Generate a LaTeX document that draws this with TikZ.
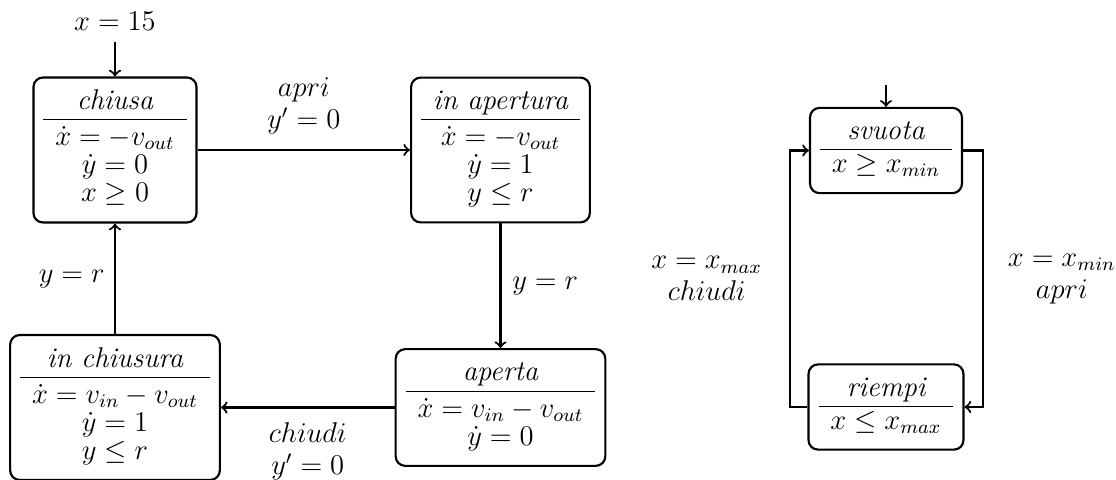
\documentclass[tikz,border=0pt]{standalone}
% rows of the state boxes: tighter than the normal baselineskip
\renewcommand{\arraystretch}{0.814}
% state box contents: name, rule, then the equations
% #1 name, #2 strut height of the first row under the rule, #3 rows
\newcommand{\statebox}[3]{$\begin{array}{c}\textit{#1}\\[0.56pt]\hline\rule{0pt}{#2}#3\end{array}$}
\begin{document}
\begin{tikzpicture}[x=0.42pt,y=-0.42pt,
  every node/.style={font=\fontsize{12}{14.5}\selectfont},
  state/.style={draw,line width=0.9pt,rounded corners=4pt,inner xsep=4.2pt,inner ysep=5.1pt},
  trans/.style={draw,line width=0.9pt,->},
  lbl/.style={align=center,font=\fontsize{12}{13.5}\selectfont}]
\useasboundingbox (0,0) rectangle (1116,479);

% ---- valve automaton ----
\node[state] (chiusa) at (115,150)
  {\statebox{chiusa}{10.7pt}{\dot x=-v_{out}\\ \dot y=0\\ x\ge 0}};
\node[state] (inap) at (500.5,150)
  {\statebox{in apertura}{10.7pt}{\dot x=-v_{out}\\ \dot y=1\\ y\le r}};
\node[state] (aperta) at (500.5,407.5)
  {\statebox{aperta}{10.7pt}{\dot x=v_{in}-v_{out}\\ \dot y=0}};
\node[state] (inch) at (115,407.5)
  {\statebox{in chiusura}{10.7pt}{\dot x=v_{in}-v_{out}\\ \dot y=1\\ y\le r}};

\node[anchor=base] (init) at (115,30) {$x=15$};
\draw[trans,shorten <=1.5pt] (init) -- (chiusa);

\draw[trans] (chiusa) -- node[lbl,above=2.9pt] {$apri$\\$y'=0$} (inap);
\draw[trans] (inap) -- node[right=1.2pt] {$y=r$} (aperta);
\draw[trans] (aperta) -- node[lbl,below=2.7pt] {$chiudi$\\$y'=0$} (inch);
\draw[trans] (inch) -- node[left=0.6pt] {$y=r$} (chiusa);

% ---- controller automaton ----
\node[state] (svuota) at (886,150.5) {\statebox{svuota}{9.3pt}{x\ge x_{min}}};
\node[state] (riempi) at (886,407) {\statebox{riempi}{9.3pt}{x\le x_{max}}};

\coordinate (s0) at (886,85);
\coordinate (loopR) at (983,0);
\coordinate (loopL) at (790,0);
\draw[trans] (s0) -- (svuota);

\draw[trans] (svuota.east) -- (svuota.east -| loopR) |-
  node[pos=0.25,lbl,right=6.7pt] {$x=x_{min}$\\$apri$} (riempi.east);
\draw[trans] (riempi.west) -- (riempi.west -| loopL) |-
  node[pos=0.25,lbl,left=8pt] {$x=x_{max}$\\$chiudi$} (svuota.west);
\end{tikzpicture}
\end{document}
